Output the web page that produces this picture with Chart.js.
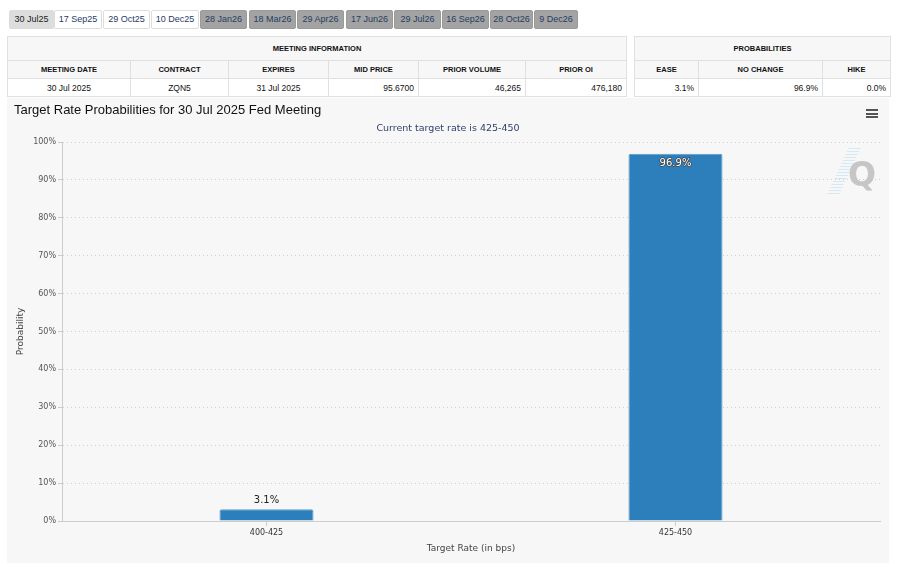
<!DOCTYPE html>
<html>
<head>
<meta charset="utf-8">
<script src="https://cdn.jsdelivr.net/npm/chart.js@4"></script>
<style>
  body { margin: 0; background: #fff; font-family: "Liberation Sans", Arial, sans-serif; }
  #tabs { position: absolute; left: 9px; top: 10px; height: 19px; }
  .tab { position: absolute; top: 0; height: 17px; line-height: 17px; font-size: 9px; text-align: center;
         border: 1px solid #ddd; border-radius: 2px; color: #1f3b66; background: #fff; }
  .tab.sel { background: #ddd; color: #222; }
  .tab.off { background: #a3a3a3; border-color: #9a9a9a; color: #25405f; }
  table { position: absolute; border-collapse: collapse; font-size: 8.5px; color: #111; table-layout: fixed; }
  td, th { border: 1px solid #e0e0e0; height: 17px; padding: 0 4px; }
  th { font-weight: bold; font-size: 7.5px; background: #f7f7f7; text-align: center; }
  th.big { height: 23px; }
  td { background: #fff; text-align: right; }
  td.c { text-align: center; }
  #box { position: absolute; left: 7px; top: 98px; width: 882px; height: 465px; background: #f7f7f7; }
  #title { position: absolute; left: 7px; top: 4px; font-size: 13px; color: #111; }
  #sub { position: absolute; left: 0; width: 882px; top: 24px; text-align: center;
         font-family: "DejaVu Sans", sans-serif; font-size: 9.5px; color: #2f3e6d; }
  #menu { position: absolute; left: 859px; top: 11px; width: 12px; }
  #menu div { height: 2px; background: #555; margin-bottom: 1.5px; }
  #logo { position: absolute; left: 841px; top: 57px; font-family: "DejaVu Sans", sans-serif; font-weight: bold;
          font-size: 33px; color: #c6c6c6; }
  #streak { position: absolute; left: 831px; top: 50px; width: 12px; height: 46px;
            background: repeating-linear-gradient(0deg, #d3e9f6 0 1px, transparent 1px 3px); transform: skewX(-25deg); }
  canvas { position: absolute; left: 0; top: 0; }
</style>
</head>
<body>
<div id="tabs"></div>
<table id="meet" style="left:7px; top:36px; width:619px;">
  <colgroup><col style="width:123px"><col style="width:98px"><col style="width:100px"><col style="width:90px"><col style="width:107px"><col style="width:101px"></colgroup>
  <tr><th class="big" colspan="6">MEETING INFORMATION</th></tr>
  <tr id="meetHead"></tr>
  <tr id="meetRow"></tr>
</table>
<table id="prob" style="left:634px; top:36px; width:256px;">
  <colgroup><col style="width:64px"><col style="width:124px"><col style="width:68px"></colgroup>
  <tr><th class="big" colspan="3">PROBABILITIES</th></tr>
  <tr id="probHead"></tr>
  <tr id="probRow"></tr>
</table>
<div id="box">
  <canvas id="chart"></canvas>
  <div id="title">Target Rate Probabilities for 30 Jul 2025 Fed Meeting</div>
  <div id="sub">Current target rate is 425-450</div>
  <div id="menu"><div></div><div></div><div></div></div>
  <div id="streak"></div>
  <div id="logo">Q</div>
</div>
<script>
// meeting tabs
const meetingTabs = ['30 Jul25', '17 Sep25', '29 Oct25', '10 Dec25', '28 Jan26', '18 Mar26', '29 Apr26', '17 Jun26', '29 Jul26', '16 Sep26', '28 Oct26', '9 Dec26'];
const tabLefts = [0, 45, 94, 142, 191, 240, 288, 337, 385, 433, 481, 525];
const tabWidths = [43, 46, 45, 46, 45, 45, 45, 45, 45, 45, 41, 42];

// table contents
const meetingHeaders = ['MEETING DATE', 'CONTRACT', 'EXPIRES', 'MID PRICE', 'PRIOR VOLUME', 'PRIOR OI'];
const meetingValues = ['30 Jul 2025', 'ZQN5', '31 Jul 2025', '95.6700', '46,265', '476,180'];
const probHeaders = ['EASE', 'NO CHANGE', 'HIKE'];
const probValues = ['3.1%', '96.9%', '0.0%'];

// chart data
const targetRates = ['400-425', '425-450'];
const probabilities = [3.1, 96.9];
const yTicks = [0, 10, 20, 30, 40, 50, 60, 70, 80, 90, 100];

/* ---------- html bits ---------- */
const tabsEl = document.getElementById('tabs');
meetingTabs.forEach((t, i) => {
  const d = document.createElement('div');
  d.className = 'tab' + (i === 0 ? ' sel' : i > 3 ? ' off' : '');
  d.style.left = tabLefts[i] + 'px';
  d.style.width = tabWidths[i] + 'px';
  d.textContent = t;
  tabsEl.appendChild(d);
});
function fillRow(id, cells, tag, centered) {
  const row = document.getElementById(id);
  cells.forEach((c, i) => {
    const el = document.createElement(tag);
    el.textContent = c;
    if (centered && centered.includes(i)) el.className = 'c';
    row.appendChild(el);
  });
}
fillRow('meetHead', meetingHeaders, 'th');
fillRow('meetRow', meetingValues, 'td', [0, 1, 2]);
fillRow('probHead', probHeaders, 'th');
fillRow('probRow', probValues, 'td');

/* ---------- bar value labels ---------- */
const barLabels = {
  id: 'barLabels',
  afterDatasetsDraw(chart) {
    const ctx = chart.ctx;
    const meta = chart.getDatasetMeta(0);
    ctx.save();
    ctx.font = '10px "DejaVu Sans"';
    ctx.textAlign = 'center';
    meta.data.forEach((bar, i) => {
      const v = probabilities[i];
      const txt = v.toFixed(1) + '%';
      if (v > 50) {
        ctx.textBaseline = 'top';
        ctx.lineWidth = 1.5;
        ctx.strokeStyle = '#444';
        ctx.lineJoin = 'round';
        ctx.strokeText(txt, bar.x, bar.y + 5);
        ctx.fillStyle = '#fff';
        ctx.fillText(txt, bar.x, bar.y + 5);
      } else {
        ctx.textBaseline = 'bottom';
        ctx.fillStyle = '#222';
        ctx.fillText(txt, bar.x, bar.y - 4);
      }
    });
    ctx.restore();
  }
};

new Chart(document.getElementById('chart'), {
  type: 'bar',
  data: {
    labels: targetRates,
    datasets: [{
      data: probabilities,
      backgroundColor: '#2d7fbb',
      borderColor: '#5a9bcb',
      borderWidth: 1,
      borderRadius: 2,
      borderSkipped: 'bottom',
      categoryPercentage: 1,
      barPercentage: 0.23
    }]
  },
  options: {
    responsive: true,
    maintainAspectRatio: false,
    animation: false,
    layout: { padding: { top: 44, right: 9, left: 0, bottom: 0 } },
    plugins: { legend: { display: false }, tooltip: { enabled: false } },
    scales: {
      x: {
        grid: { offset: false, drawOnChartArea: false, drawTicks: true, tickLength: 5, tickColor: '#ccc' },
        border: { color: '#ccc' },
        ticks: { color: '#333', font: { family: 'DejaVu Sans', size: 8 }, padding: 2 },
        title: { display: true, text: 'Target Rate (in bps)', color: '#444',
                 font: { family: 'DejaVu Sans', size: 9 }, padding: { top: 4, bottom: 9 } },
        afterFit: s => { s.height = 42; }
      },
      y: {
        min: 0, max: 100,
        afterBuildTicks: s => { s.ticks = yTicks.map(v => ({ value: v })); },
        grid: { color: '#cfcfcf', tickLength: 4, tickColor: '#ccc' },
        border: { color: '#ccc', width: 1, dash: [1, 3] },
        ticks: { color: '#555', font: { family: 'DejaVu Sans', size: 8 }, padding: 2,
                 callback: v => v + '%' },
        title: { display: true, text: 'Probability', color: '#444',
                 font: { family: 'DejaVu Sans', size: 9 }, padding: { top: 8, bottom: 0 } },
        afterFit: s => { s.width = 55; }
      }
    }
  },
  plugins: [barLabels]
});
</script>
</body>
</html>
